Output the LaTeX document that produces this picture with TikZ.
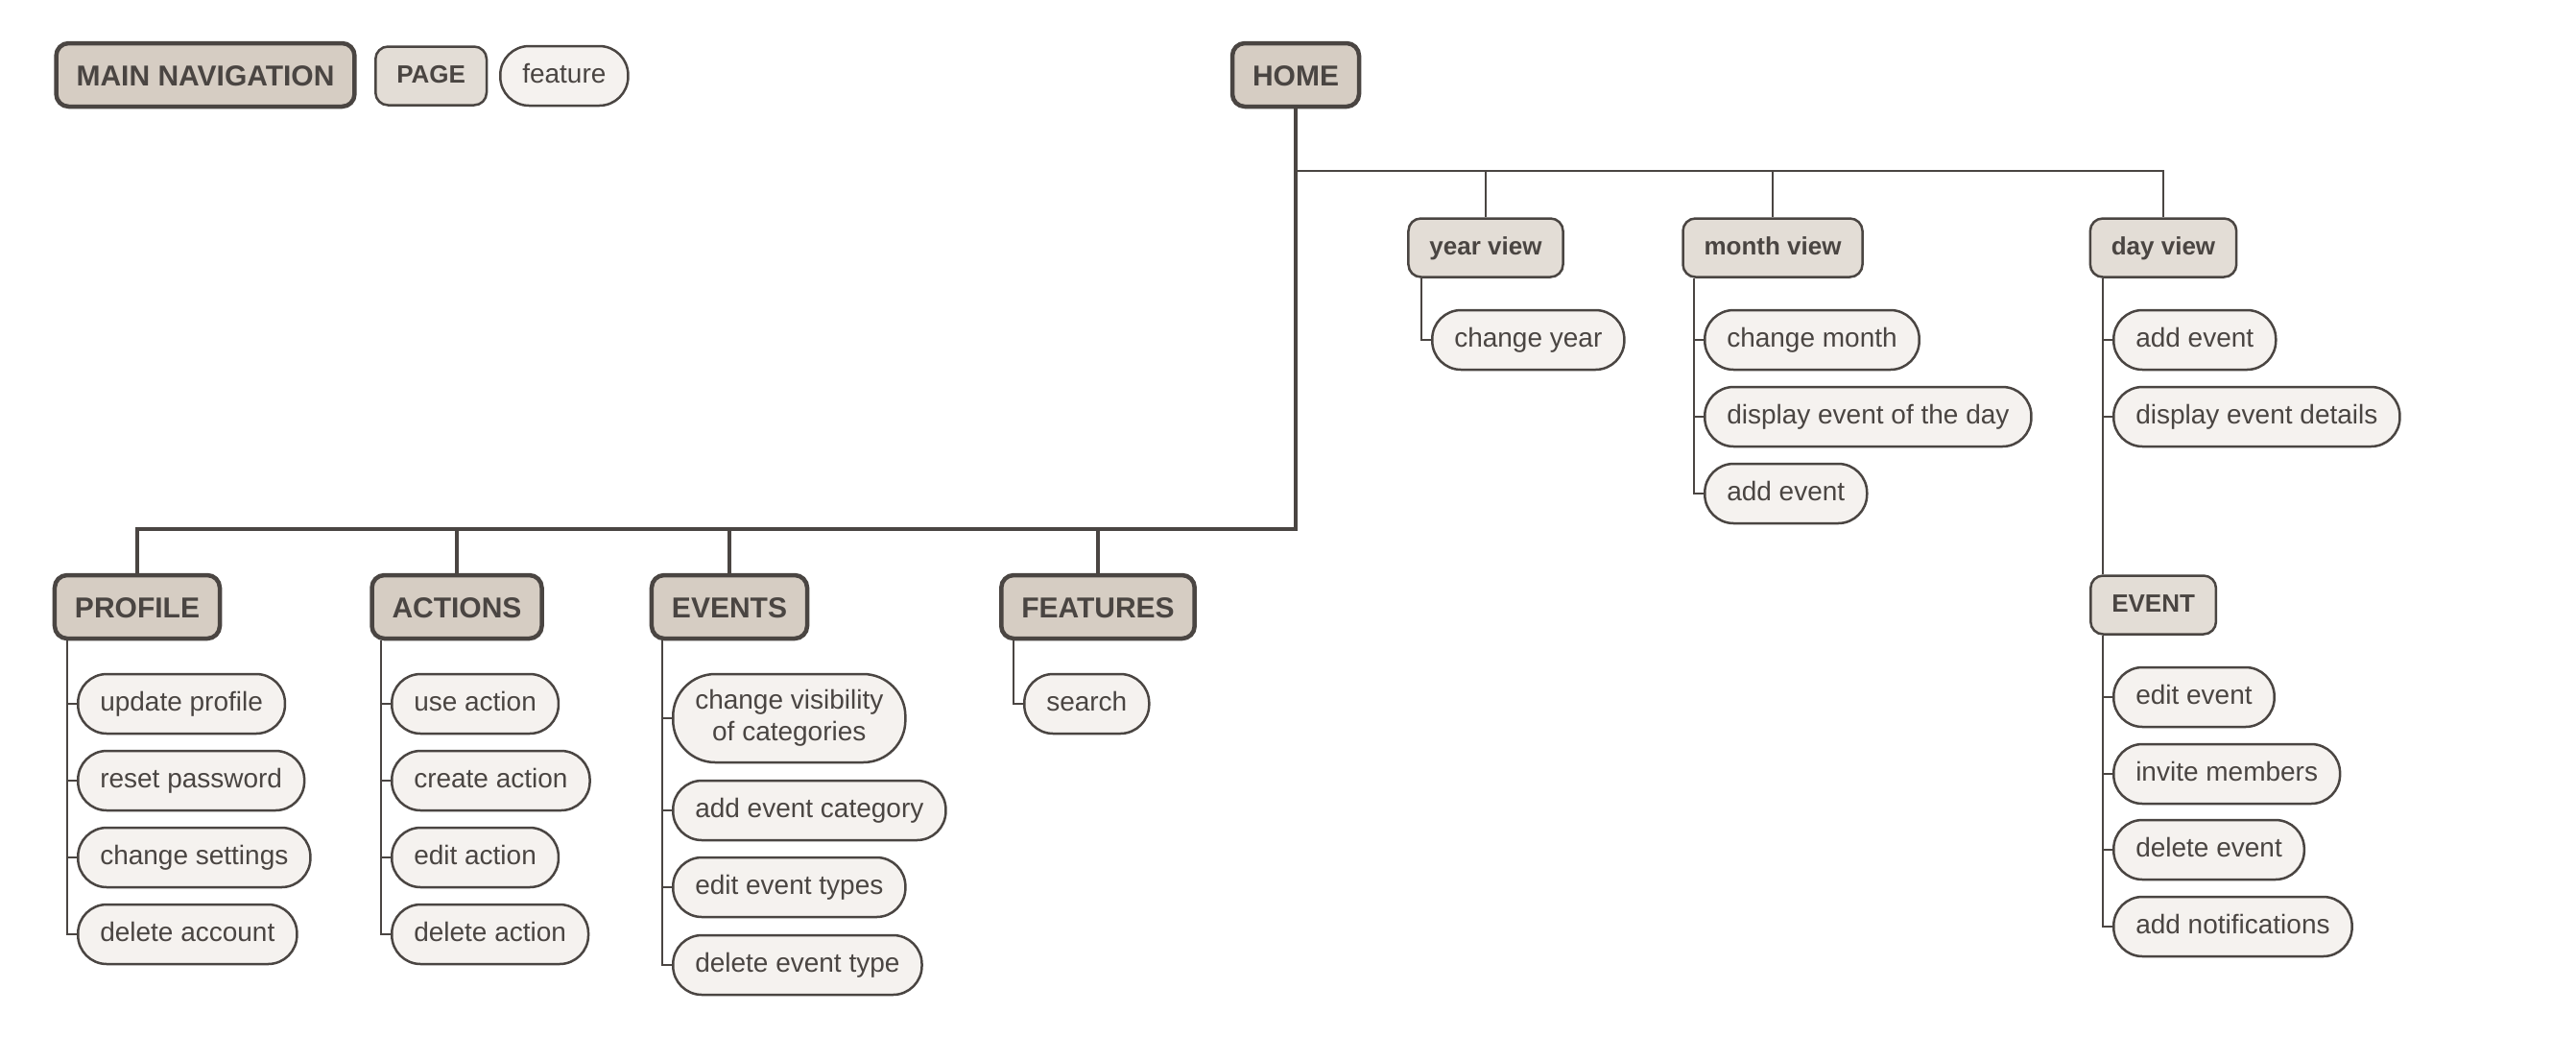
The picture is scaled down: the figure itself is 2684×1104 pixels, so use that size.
\documentclass[tikz,border=0pt]{standalone}
\usepackage{fontspec}
\setmainfont{Liberation Sans}
\usetikzlibrary{calc}
\definecolor{ink}{RGB}{74,69,66}
\definecolor{hdrfill}{RGB}{214,205,195}
\definecolor{pgfill}{RGB}{227,221,214}
\definecolor{ftfill}{RGB}{245,242,239}
\tikzset{
  hdr/.style={draw=ink, line width=4.5pt, fill=hdrfill, rounded corners=13pt,
    minimum height=66pt, inner xsep=21pt, inner ysep=0pt, text=ink,
    text height=22pt, text depth=0pt, font=\fontsize{30}{36}\selectfont\bfseries},
  pagebox/.style={draw=ink, line width=2.5pt, fill=pgfill, rounded corners=13pt,
    minimum height=61pt, inner xsep=22pt, inner ysep=0pt, text=ink,
    text height=19pt, text depth=5pt, font=\fontsize{26}{31}\selectfont\bfseries},
  feat/.style={draw=ink, line width=2.5pt, fill=ftfill, rounded corners=30pt,
    minimum height=62pt, inner xsep=23pt, inner ysep=0pt, text=ink, anchor=west,
    text height=20pt, text depth=6pt, font=\fontsize{28}{33}\selectfont},
  twoline/.style={align=center, text height={}, text depth={}, inner ysep=12pt,
    minimum height=92pt, rounded corners=44pt},
  bus/.style={draw=ink, line width=4pt},
  link/.style={draw=ink, line width=2.5pt},
}
\begin{document}
\begin{tikzpicture}[x=1pt,y=-1pt]
\useasboundingbox (0,0) rectangle (2684,1104);

% legend
\node[hdr] (legmain) at (214,78) {MAIN NAVIGATION};
\node[pagebox, anchor=west] (legpage) at (390,79) {PAGE};
\node[feat] (legfeat) at (520,79) {feature};

% root and sections
\node[hdr] (home) at (1350,78) {HOME};
\node[hdr] (profile) at (143,632) {PROFILE};
\node[hdr] (actions) at (476,632) {ACTIONS};
\node[hdr] (events) at (760,632) {EVENTS};
\node[hdr] (features) at (1144,632) {FEATURES};

% calendar pages
\node[pagebox] (yearview) at (1548,258) {year view};
\node[pagebox] (monthview) at (1847,258) {month view};
\node[pagebox] (dayview) at (2254,258) {day view};
\node[pagebox, anchor=west] (eventpg) at (2177,630) {EVENT};

% buses from HOME
\coordinate (topbus) at (0,178);
\coordinate (lowbus) at (0,551);
\draw[bus] (home.south) -- (home.south |- lowbus) -| (profile.north);
\foreach \s in {actions,events,features}
  \draw[bus] (\s.north) -- (\s.north |- lowbus);
\draw[link] (home.south |- topbus) -| (dayview.north);
\foreach \s in {yearview,monthview}
  \draw[link] (\s.north) -- (\s.north |- topbus);

% features of each page, hung from a stem on the left
\foreach \n/\t/\y in {pf1/update profile/733, pf2/reset password/813,
    pf3/change settings/893, pf4/delete account/973}
  \node[feat] (\n) at (80,\y) {\t};
\foreach \n/\t/\y in {ac1/use action/733, ac2/create action/813,
    ac3/edit action/893, ac4/delete action/973}
  \node[feat] (\n) at (407,\y) {\t};
\node[feat, twoline] (ev1) at (700,748) {change visibility\\of categories};
\foreach \n/\t/\y in {ev2/add event category/844, ev3/edit event types/924,
    ev4/delete event type/1005}
  \node[feat] (\n) at (700,\y) {\t};
\node[feat] (ft1) at (1066,733) {search};
\node[feat] (yv1) at (1491,354) {change year};
\foreach \n/\t/\y in {mv1/change month/354, mv2/display event of the day/434,
    mv3/add event/514}
  \node[feat] (\n) at (1775,\y) {\t};
\foreach \n/\t/\y in {dv1/add event/354, dv2/display event details/434}
  \node[feat] (\n) at (2201,\y) {\t};
\foreach \n/\t/\y in {et1/edit event/726, et2/invite members/806,
    et3/delete event/885, et4/add notifications/965}
  \node[feat] (\n) at (2201,\y) {\t};

\foreach \p/\c in {profile/pf1, profile/pf2, profile/pf3, profile/pf4,
    actions/ac1, actions/ac2, actions/ac3, actions/ac4,
    events/ev1, events/ev2, events/ev3, events/ev4,
    features/ft1, yearview/yv1,
    monthview/mv1, monthview/mv2, monthview/mv3,
    dayview/dv1, dayview/dv2,
    eventpg/et1, eventpg/et2, eventpg/et3, eventpg/et4}
  \draw[link] ([xshift=-10pt]\c.west |- \p.south) |- (\c.west);
% the day view stem runs on down to the EVENT page
\draw[link] ([xshift=-10pt]dv1.west |- dayview.south) -- ([xshift=-10pt]dv1.west |- eventpg.north);
\end{tikzpicture}
\end{document}
